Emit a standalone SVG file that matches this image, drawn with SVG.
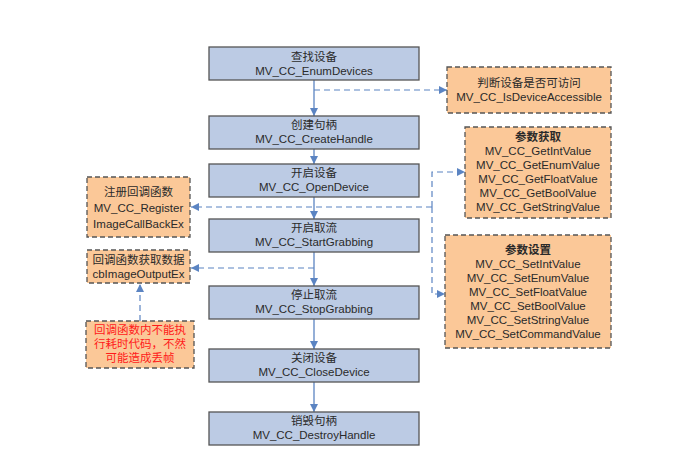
<svg xmlns="http://www.w3.org/2000/svg" width="673" height="461" viewBox="0 0 673 461">
<defs>
<marker id="ah" markerWidth="8" markerHeight="8" refX="8" refY="4" orient="auto" markerUnits="userSpaceOnUse"><path d="M0,0 L8,4 L0,8 Z" fill="#5b84c2"/></marker>
<style>
.main rect{fill:#bccbe4;stroke:#555;stroke-width:1.3}
.opt rect{fill:#fbc898;stroke:#555;stroke-width:1.3;stroke-dasharray:5,3}
text{font-family:"Liberation Sans","Noto Sans CJK SC",sans-serif;font-size:11.5px;fill:#2a2a2a;text-anchor:middle;dominant-baseline:central}
.cn{font-size:11.5px}
.hd{font-weight:bold}
.red{fill:#ff1a1a;font-size:11.5px}
.solid{stroke:#5b84c2;stroke-width:1.3;fill:none}
.dash{stroke:#5b84c2;stroke-width:1.2;fill:none;stroke-dasharray:6,4}
</style>
</defs>
<rect width="673" height="461" fill="#fff"/>
<g id="connectors">
<line class="solid" x1="314" y1="80" x2="314" y2="116" marker-end="url(#ah)"/>
<line class="solid" x1="314" y1="149" x2="314" y2="164" marker-end="url(#ah)"/>
<line class="solid" x1="314" y1="197" x2="314" y2="219" marker-end="url(#ah)"/>
<line class="solid" x1="314" y1="252" x2="314" y2="286" marker-end="url(#ah)"/>
<line class="solid" x1="314" y1="319" x2="314" y2="349" marker-end="url(#ah)"/>
<line class="solid" x1="314" y1="382" x2="314" y2="412" marker-end="url(#ah)"/>
<line class="dash" x1="314" y1="90" x2="447" y2="90" marker-end="url(#ah)"/>
<line class="dash" x1="432" y1="207" x2="191" y2="207" marker-end="url(#ah)"/>
<path class="dash" d="M432,207 V172 H465" marker-end="url(#ah)"/>
<path class="dash" d="M432,207 V294 H445" marker-end="url(#ah)"/>
<line class="dash" x1="314" y1="268" x2="191" y2="268" marker-end="url(#ah)"/>
<line class="dash" x1="140" y1="321" x2="140" y2="284" marker-end="url(#ah)"/>
</g>
<g id="enum" class="main"><rect x="209" y="47" width="210" height="33"/><text class="cn" x="314" y="57">查找设备</text><text x="314" y="71">MV_CC_EnumDevices</text></g>
<g id="create" class="main"><rect x="209" y="116" width="210" height="33"/><text class="cn" x="314" y="125">创建句柄</text><text x="314" y="139">MV_CC_CreateHandle</text></g>
<g id="open" class="main"><rect x="209" y="164" width="210" height="33"/><text class="cn" x="314" y="173">开启设备</text><text x="314" y="187">MV_CC_OpenDevice</text></g>
<g id="start" class="main"><rect x="209" y="219" width="210" height="33"/><text class="cn" x="314" y="228">开启取流</text><text x="314" y="242">MV_CC_StartGrabbing</text></g>
<g id="stop" class="main"><rect x="209" y="286" width="210" height="33"/><text class="cn" x="314" y="295">停止取流</text><text x="314" y="309">MV_CC_StopGrabbing</text></g>
<g id="close" class="main"><rect x="209" y="349" width="210" height="33"/><text class="cn" x="314" y="358">关闭设备</text><text x="314" y="372">MV_CC_CloseDevice</text></g>
<g id="destroy" class="main"><rect x="209" y="412" width="210" height="33"/><text class="cn" x="314" y="421">销毁句柄</text><text x="314" y="435">MV_CC_DestroyHandle</text></g>
<g id="access" class="opt"><rect x="447" y="67" width="164" height="46"/><text class="cn" x="529" y="83">判断设备是否可访问</text><text x="529" y="97">MV_CC_IsDeviceAccessible</text></g>
<g id="get" class="opt"><rect x="465" y="127" width="146" height="91"/>
<text class="cn hd" x="538" y="137">参数获取</text>
<text x="538" y="151">MV_CC_GetIntValue</text>
<text x="538" y="165">MV_CC_GetEnumValue</text>
<text x="538" y="179">MV_CC_GetFloatValue</text>
<text x="538" y="193">MV_CC_GetBoolValue</text>
<text x="538" y="207">MV_CC_GetStringValue</text></g>
<g id="set" class="opt"><rect x="445" y="235" width="166" height="113"/>
<text class="cn hd" x="528" y="250">参数设置</text>
<text x="528" y="264">MV_CC_SetIntValue</text>
<text x="528" y="278">MV_CC_SetEnumValue</text>
<text x="528" y="292">MV_CC_SetFloatValue</text>
<text x="528" y="306">MV_CC_SetBoolValue</text>
<text x="528" y="320">MV_CC_SetStringValue</text>
<text x="528" y="334">MV_CC_SetCommandValue</text></g>
<g id="register" class="opt"><rect x="87" y="177" width="103" height="60"/><text class="cn" x="138.5" y="192">注册回调函数</text><text x="138.5" y="208">MV_CC_Register</text><text x="138.5" y="224">ImageCallBackEx</text></g>
<g id="callback" class="opt"><rect x="87" y="250" width="103" height="33"/><text class="cn" x="138.5" y="260">回调函数获取数据</text><text x="138.5" y="274">cbImageOutputEx</text></g>
<g id="note" class="opt"><rect x="86" y="321" width="108" height="47"/><text class="cn red" x="140" y="330">回调函数内不能执</text><text class="cn red" x="140" y="344">行耗时代码，不然</text><text class="cn red" x="140" y="358">可能造成丢帧</text></g>
</svg>
